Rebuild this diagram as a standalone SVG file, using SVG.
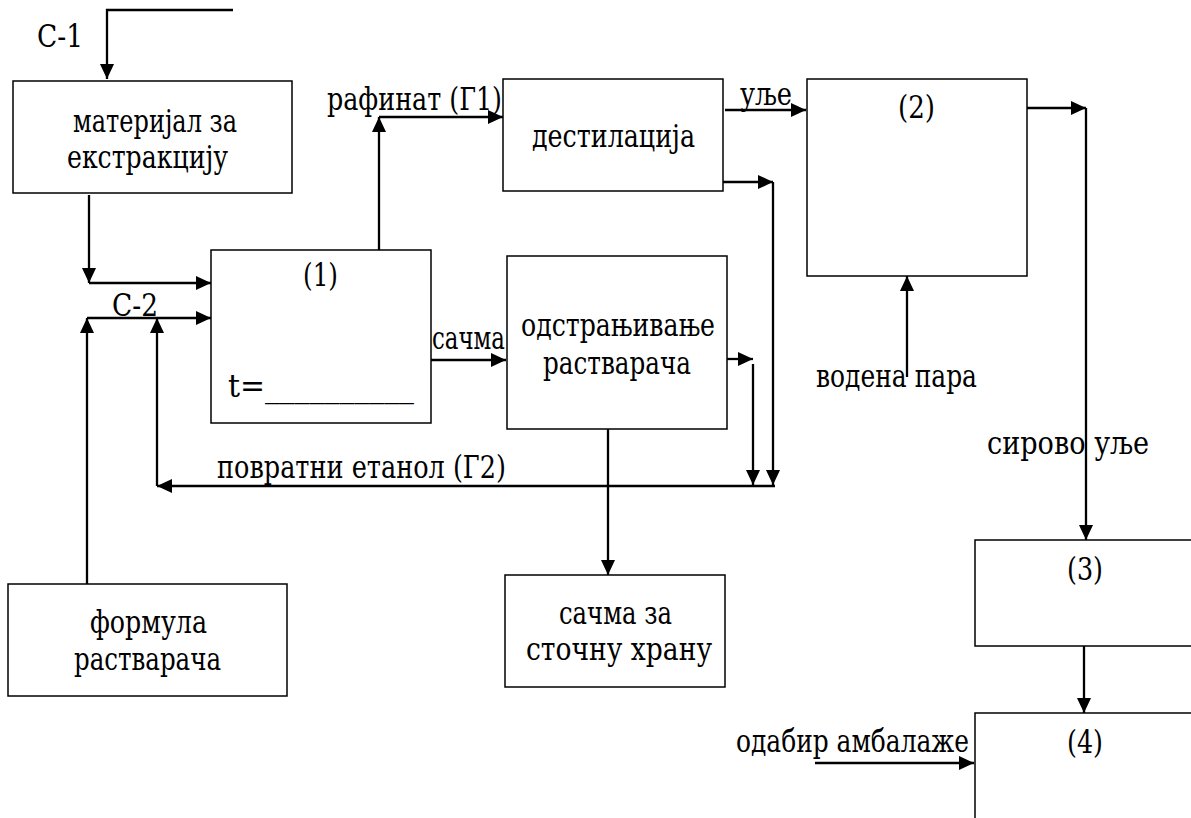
<svg xmlns="http://www.w3.org/2000/svg" width="1191" height="818" viewBox="0 0 1191 818">
<style>
.box{fill:#fff;stroke:#000;stroke-width:1.5}
.conn{fill:none;stroke:#000;stroke-width:2.3}
.t{font-family:'DejaVu Serif',serif;font-size:32px;fill:#000}
</style>
<defs>
<marker id="ah" markerUnits="userSpaceOnUse" markerWidth="15" markerHeight="14" refX="15" refY="7" orient="auto"><path d="M0,0 L15,7 L0,14 z" fill="#000"/></marker>
</defs>
<rect x="0" y="0" width="1191" height="818" fill="#fff"/>
<g id="connectors">
<path class="conn" d="M233,10 H107 V79" marker-end="url(#ah)"/>
<path class="conn" d="M89,195 V283" marker-end="url(#ah)"/>
<path class="conn" d="M89,283 H211" marker-end="url(#ah)"/>
<path class="conn" d="M87,318 H211" marker-end="url(#ah)"/>
<path class="conn" d="M87,584 V318" marker-end="url(#ah)"/>
<path class="conn" d="M775,486 H157" marker-end="url(#ah)"/>
<path class="conn" d="M157,486 V318" marker-end="url(#ah)"/>
<path class="conn" d="M379,250 V117" marker-end="url(#ah)"/>
<path class="conn" d="M379,117 H503" marker-end="url(#ah)"/>
<path class="conn" d="M431,360 H506" marker-end="url(#ah)"/>
<path class="conn" d="M725,110 H806" marker-end="url(#ah)"/>
<path class="conn" d="M723,182 H773" marker-end="url(#ah)"/>
<path class="conn" d="M773,182 V485" marker-end="url(#ah)"/>
<path class="conn" d="M727,359 H753" marker-end="url(#ah)"/>
<path class="conn" d="M753,364 V485" marker-end="url(#ah)"/>
<path class="conn" d="M608,429 V575" marker-end="url(#ah)"/>
<path class="conn" d="M1027,108 H1086" marker-end="url(#ah)"/>
<path class="conn" d="M1086,108 V540" marker-end="url(#ah)"/>
<path class="conn" d="M907,377 V276" marker-end="url(#ah)"/>
<path class="conn" d="M1084,646 V713" marker-end="url(#ah)"/>
<path class="conn" d="M815,763 H974" marker-end="url(#ah)"/>
</g>
<g id="labels">
<text class="t" x="37" y="47" textLength="46" lengthAdjust="spacingAndGlyphs">C-1</text>
<text class="t" x="112" y="316" textLength="46" lengthAdjust="spacingAndGlyphs">C-2</text>
<text class="t" x="327" y="110" textLength="175" lengthAdjust="spacingAndGlyphs">рафинат (Г1)</text>
<text class="t" x="432" y="349" textLength="73" lengthAdjust="spacingAndGlyphs">сачма</text>
<text class="t" x="740" y="105" textLength="52" lengthAdjust="spacingAndGlyphs">уље</text>
<text class="t" x="217" y="478" textLength="289" lengthAdjust="spacingAndGlyphs">повратни етанол (Г2)</text>
<text class="t" x="816" y="387" textLength="161" lengthAdjust="spacingAndGlyphs">водена пара</text>
<text class="t" x="987" y="454" textLength="162" lengthAdjust="spacingAndGlyphs">сирово уље</text>
<text class="t" x="736" y="752" textLength="233" lengthAdjust="spacingAndGlyphs">одабир амбалаже</text>
</g>
<g id="node-material">
<rect class="box" x="13" y="81" width="279" height="112"/>
<text class="t" x="73" y="132" textLength="164" lengthAdjust="spacingAndGlyphs">материјал за</text>
<text class="t" x="67" y="168" textLength="161" lengthAdjust="spacingAndGlyphs">екстракцију</text>
</g>
<g id="node-1">
<rect class="box" x="211" y="250" width="220" height="173"/>
<text class="t" x="303" y="286" textLength="35" lengthAdjust="spacingAndGlyphs">(1)</text>
<text class="t" x="228" y="397" textLength="186" lengthAdjust="spacingAndGlyphs">t=__________</text>
</g>
<g id="node-destilacija">
<rect class="box" x="503" y="79" width="220" height="112"/>
<text class="t" x="532" y="147" textLength="163" lengthAdjust="spacingAndGlyphs">дестилација</text>
</g>
<g id="node-odstranjivanje">
<rect class="box" x="507" y="256" width="220" height="173"/>
<text class="t" x="521" y="336" textLength="194" lengthAdjust="spacingAndGlyphs">одстрањивање</text>
<text class="t" x="543" y="374" textLength="148" lengthAdjust="spacingAndGlyphs">растварача</text>
</g>
<g id="node-2">
<rect class="box" x="807" y="79" width="220" height="197"/>
<text class="t" x="898" y="118" textLength="37" lengthAdjust="spacingAndGlyphs">(2)</text>
</g>
<g id="node-formula">
<rect class="box" x="8" y="584" width="279" height="112"/>
<text class="t" x="90" y="633" textLength="117" lengthAdjust="spacingAndGlyphs">формула</text>
<text class="t" x="74" y="670" textLength="147" lengthAdjust="spacingAndGlyphs">растварача</text>
</g>
<g id="node-sachma">
<rect class="box" x="505" y="575" width="220" height="112"/>
<text class="t" x="559" y="624" textLength="113" lengthAdjust="spacingAndGlyphs">сачма за</text>
<text class="t" x="526" y="660" textLength="186" lengthAdjust="spacingAndGlyphs">сточну храну</text>
</g>
<g id="node-3">
<rect class="box" x="975" y="540" width="220" height="106"/>
<text class="t" x="1067" y="580" textLength="36" lengthAdjust="spacingAndGlyphs">(3)</text>
</g>
<g id="node-4">
<rect class="box" x="975" y="713" width="220" height="173"/>
<text class="t" x="1067" y="753" textLength="36" lengthAdjust="spacingAndGlyphs">(4)</text>
</g>
</svg>
